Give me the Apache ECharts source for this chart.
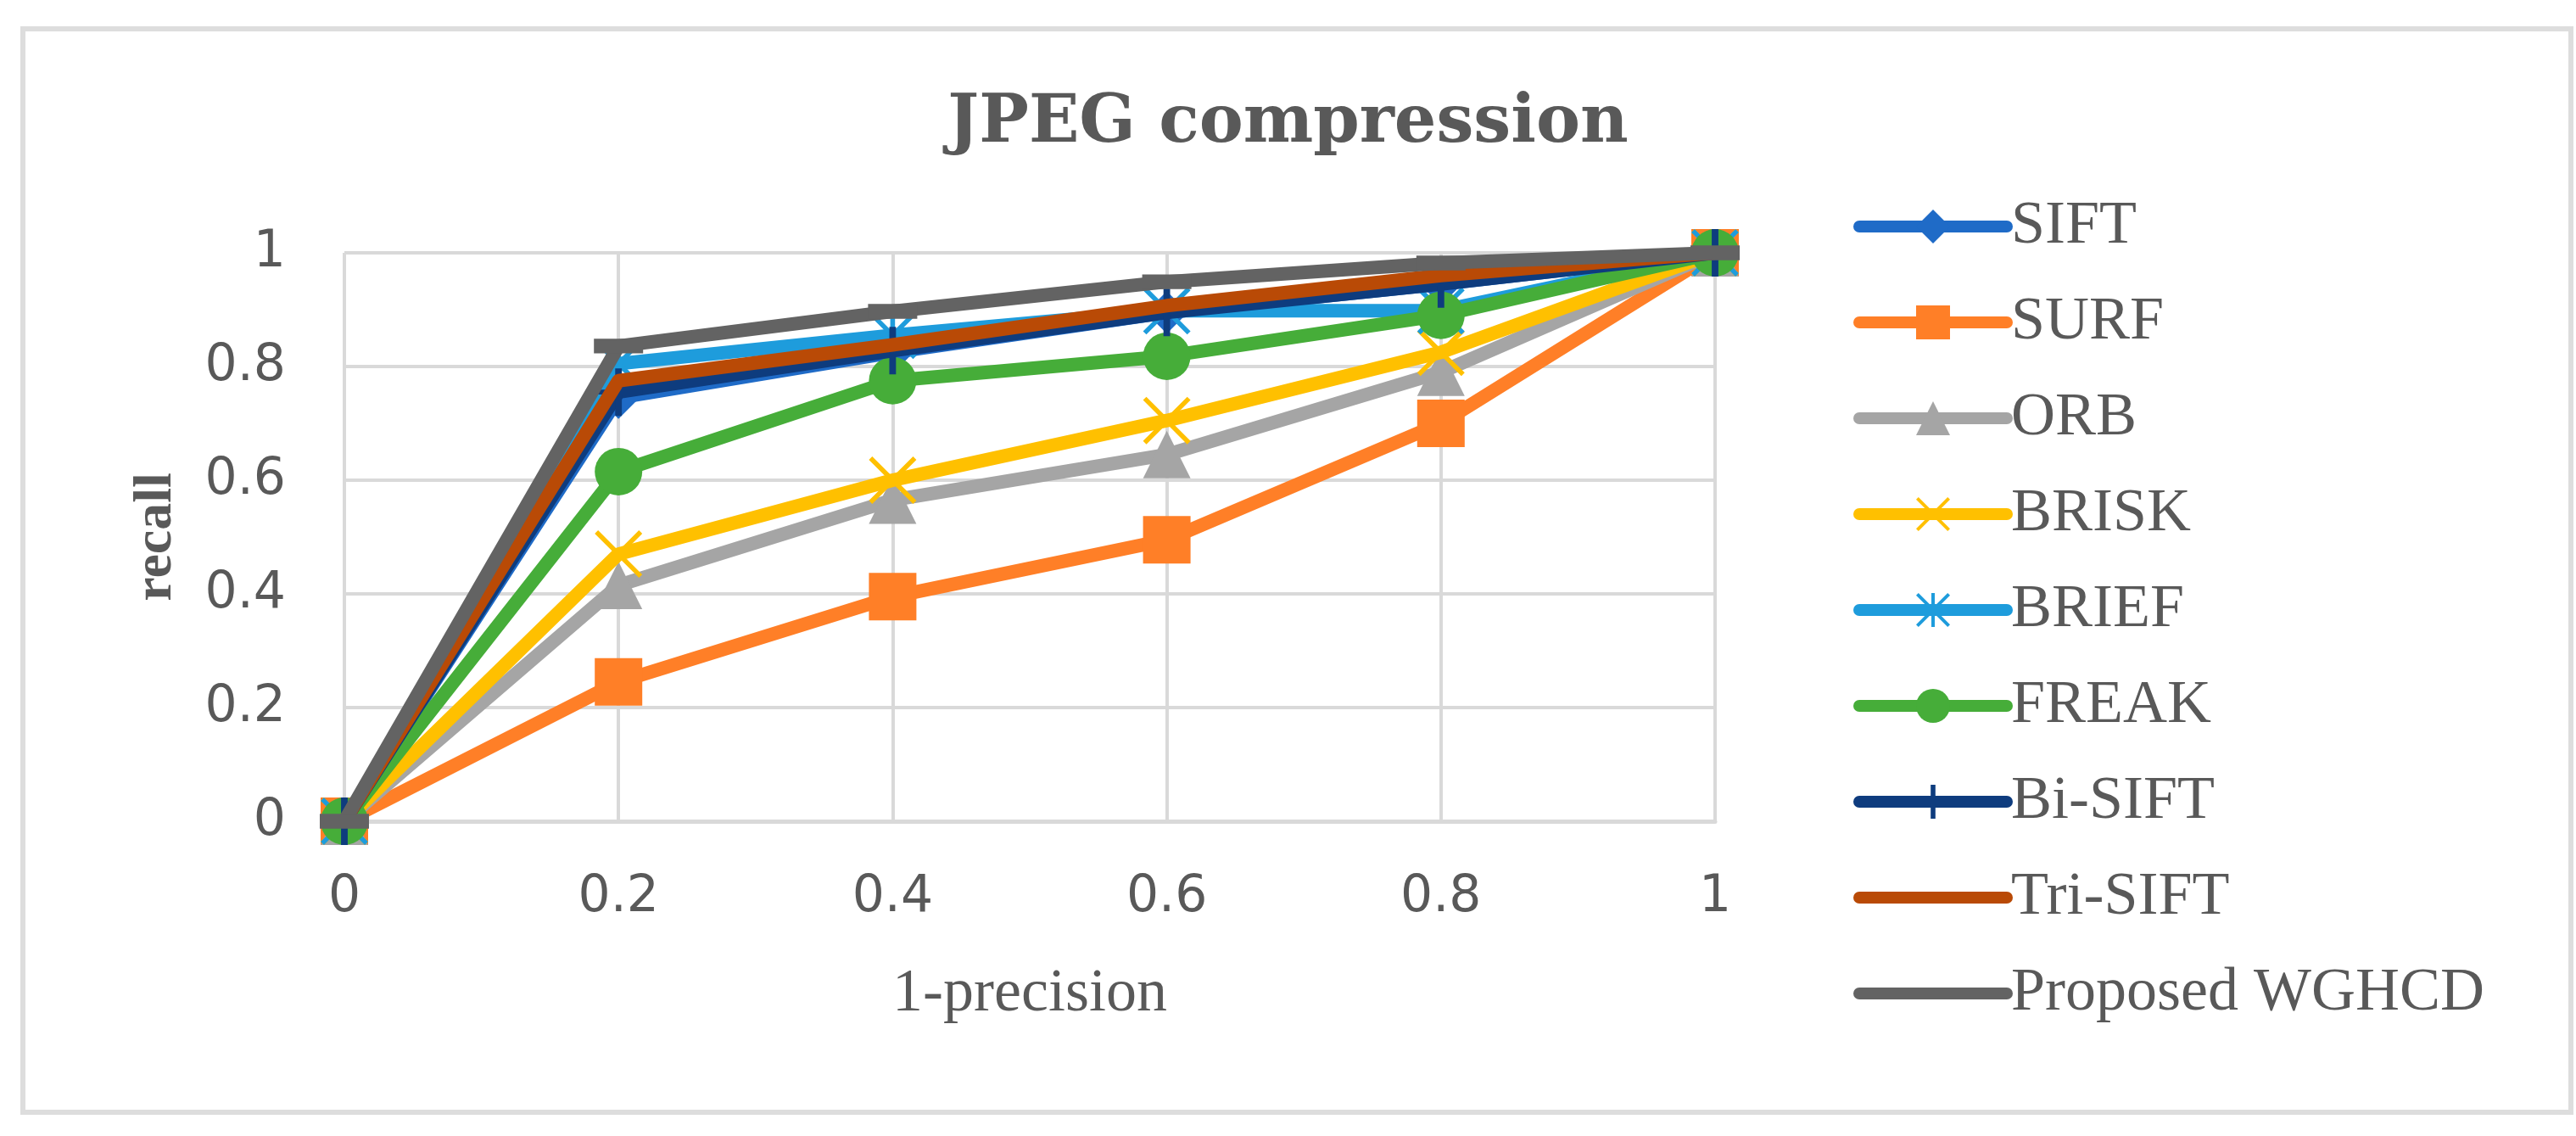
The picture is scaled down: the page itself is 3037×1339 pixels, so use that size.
<!DOCTYPE html>
<html>
<head>
<meta charset="utf-8">
<script src="https://cdn.jsdelivr.net/npm/echarts@6/dist/echarts.min.js"></script>
<style>
html,body{margin:0;padding:0;background:#fff;}
#chart{width:3037px;height:1339px;}
</style>
</head>
<body>
<div id="chart"></div>
<script>
// ---- data ----
const xValues = [0, 0.2, 0.4, 0.6, 0.8, 1];
const seriesNames = ['SIFT', 'SURF', 'ORB', 'BRISK', 'BRIEF', 'FREAK', 'Bi-SIFT', 'Tri-SIFT', 'Proposed WGHCD'];
const sift     = [0, 0.745, 0.825, 0.895, 0.945, 1];
const surf     = [0, 0.245, 0.395, 0.495, 0.700, 1];
const orb      = [0, 0.415, 0.565, 0.645, 0.790, 1];
const brisk    = [0, 0.470, 0.600, 0.705, 0.825, 1];
const brief    = [0, 0.805, 0.855, 0.898, 0.898, 1];
const freak    = [0, 0.615, 0.775, 0.818, 0.890, 1];
const biSift   = [0, 0.755, 0.828, 0.895, 0.945, 1];
const triSift  = [0, 0.775, 0.838, 0.907, 0.960, 1];
const proposed = [0, 0.836, 0.897, 0.949, 0.982, 1];
const yTicks = [0, 0.2, 0.4, 0.6, 0.8, 1];

// ---- styles ----
const colors = ['#1F6BC7', '#FF7F27', '#A5A5A5', '#FFC000', '#1E9CDC', '#46AD39', '#0E3C7E', '#B94A06', '#636363'];
const X_PATH = 'path://M0,7 L7,0 L100,93 L93,100 Z M93,0 L100,7 L7,100 L0,93 Z';
const STAR_PATH = 'path://M0,7 L7,0 L100,93 L93,100 Z M93,0 L100,7 L7,100 L0,93 Z M45,0 L55,0 L55,100 L45,100 Z';
const PLUS_PATH = 'path://M43,0 L57,0 L57,100 L43,100 Z M0,45 L100,45 L100,55 L0,55 Z';
const BAR_PATH = 'path://M0,0 L0.01,0 L0.01,0.01 Z M0,35 L100,35 L100,65 L0,65 Z M99.99,99.99 L100,99.99 L100,100 Z';
const symbols = ['diamond', 'rect', 'triangle', X_PATH, STAR_PATH, 'circle', PLUS_PATH, 'none', BAR_PATH];
const symbolSizes = [50, 56, 56, 56, 56, 56, 56, 0, 58];
const allValues = [sift, surf, orb, brisk, brief, freak, biSift, triSift, proposed];

const series = seriesNames.map((name, i) => ({
  name: name,
  type: 'line',
  data: xValues.map((x, j) => [x, allValues[i][j]]),
  symbol: symbols[i],
  symbolSize: symbolSizes[i],
  symbolKeepAspect: false,
  showAllSymbol: true,
  clip: false,
  lineStyle: { color: colors[i], width: 16, cap: 'round', join: 'round' },
  itemStyle: { color: colors[i] },
  emphasis: { disabled: true },
  z: 2 + i
}));

const chart = echarts.init(document.getElementById('chart'), null, { renderer: 'canvas' });
chart.setOption({
  animation: false,
  backgroundColor: '#ffffff',
  title: {
    text: 'JPEG compression',
    left: 'center',
    top: 108,
    padding: 0,
    textStyle: { fontFamily: 'DejaVu Serif', fontWeight: 'bold', fontSize: 78, color: '#595959' }
  },
  graphic: [{
    type: 'rect',
    shape: { x: 27, y: 34, width: 3004, height: 1277 },
    style: { fill: 'none', stroke: '#DDDDDD', lineWidth: 6 },
    silent: true,
    z: -1
  }],
  grid: { left: 406, right: 1015, top: 298, bottom: 371 },
  xAxis: {
    type: 'value',
    min: 0, max: 1, interval: 0.2,
    name: '1-precision',
    nameLocation: 'middle',
    nameGap: 168,
    nameTextStyle: { fontFamily: 'Liberation Serif', fontSize: 72, color: '#595959' },
    axisLine: { show: true, lineStyle: { color: '#D9D9D9', width: 5 } },
    axisTick: { show: false },
    axisLabel: { margin: 60, fontFamily: 'DejaVu Sans', fontSize: 60, color: '#595959' },
    splitLine: { show: true, lineStyle: { color: '#D9D9D9', width: 4 } }
  },
  yAxis: {
    type: 'value',
    min: 0, max: 1, interval: 0.2,
    name: 'recall',
    nameLocation: 'middle',
    nameRotate: 90,
    nameGap: 190,
    nameTextStyle: { fontFamily: 'Liberation Serif', fontWeight: 'bold', fontSize: 64, color: '#595959' },
    axisLine: { show: false },
    axisTick: { show: false },
    axisLabel: {
      margin: 69, fontFamily: 'DejaVu Sans', fontSize: 60, color: '#595959',
      formatter: v => String(yTicks.find(t => Math.abs(t - v) < 1e-9) ?? v)
    },
    splitLine: { show: true, lineStyle: { color: '#D9D9D9', width: 4 } }
  },
  legend: {
    orient: 'vertical',
    left: 2180,
    top: 226,
    bottom: 0,
    itemWidth: 174,
    itemHeight: 50,
    itemGap: 41,
    selectedMode: false,
    lineStyle: { width: 14, cap: 'round' },
    textStyle: { fontFamily: 'Liberation Serif', fontSize: 72, color: '#595959' },
    data: seriesNames.map(n => n === 'Tri-SIFT'
      ? { name: n, itemStyle: { opacity: 0 } }
      : { name: n })
  },
  series: series
});
</script>
</body>
</html>
